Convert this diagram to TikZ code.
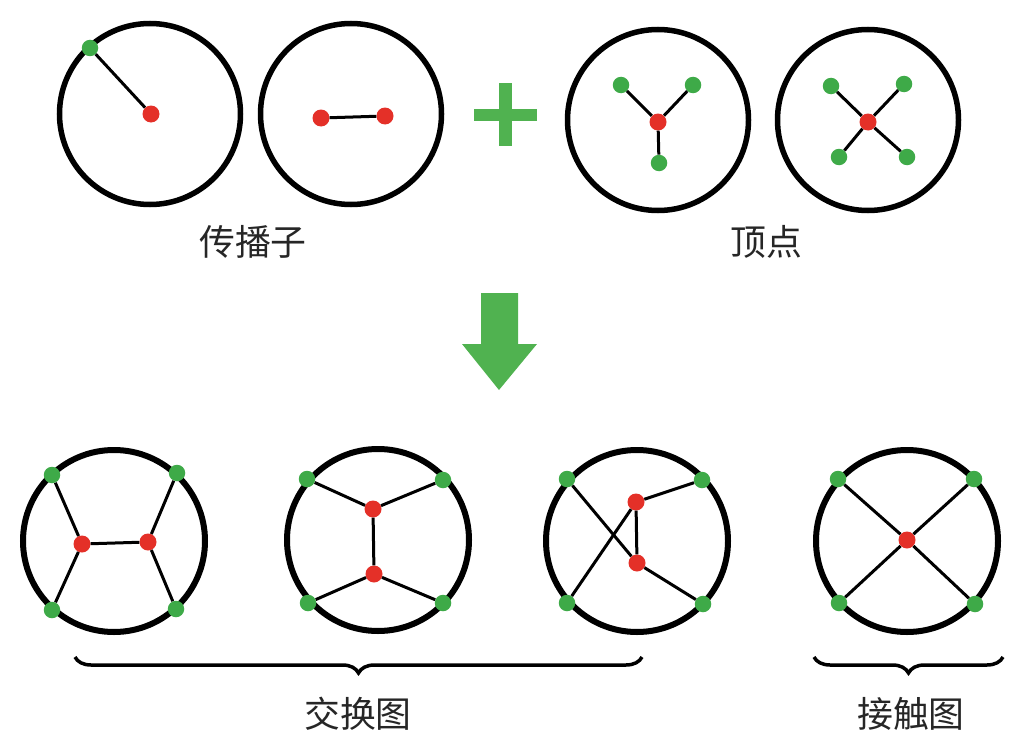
\documentclass[tikz,border=0pt]{standalone}
\usepackage{fontspec}
\newfontfamily\cjk{Noto Sans CJK SC}
\usetikzlibrary{decorations.pathreplacing}
\definecolor{dotgreen}{RGB}{62,170,72}
\definecolor{dotred}{RGB}{228,48,40}
\definecolor{signgreen}{RGB}{80,178,80}
\begin{document}
\begin{tikzpicture}[x=1bp,y=-1bp,
  ring/.style={circle,draw=black,line width=5.5bp,inner sep=0,minimum size=181bp},
  gdot/.style={circle,fill=dotgreen,inner sep=0,minimum size=16.5bp},
  rdot/.style={circle,fill=dotred,inner sep=0,minimum size=17bp},
  link/.style={line width=3bp},
  lbl/.style={font=\cjk\fontsize{36}{40}\selectfont,text=black!85,inner sep=0},
  bracestyle/.style={decorate,decoration={brace,mirror,amplitude=16bp},line width=3.5bp}]
\useasboundingbox (0,0) rectangle (1024,752);

% --- top: propagators
\node[ring] (c1) at (150,114) {};
\node[gdot] (g1) at (90,48) {};
\node[rdot] (r1) at (151,114) {};
\draw[link] (g1) -- (r1);

\node[ring] (c2) at (351,114) {};
\node[rdot] (r2a) at (321,118) {};
\node[rdot] (r2b) at (385,116) {};
\draw[link] (r2a) -- (r2b);

\node[lbl] (t1) at (253,242) {传播子};

% plus sign
\fill[signgreen] (474,109) rectangle (537,121);
\fill[signgreen] (499,83) rectangle (512,146);

% --- top: vertices
\node[ring] (c3) at (658,120) {};
\node[rdot] (r3) at (658,122) {};
\node[gdot] (g3a) at (621,85) {};
\node[gdot] (g3b) at (693,85) {};
\node[gdot] (g3c) at (659,163) {};
\draw[link] (g3a) -- (r3);
\draw[link] (g3b) -- (r3);
\draw[link] (g3c) -- (r3);

\node[ring] (c4) at (868,120) {};
\node[rdot] (r4) at (868,122) {};
\node[gdot] (g4a) at (831,86) {};
\node[gdot] (g4b) at (904,84) {};
\node[gdot] (g4c) at (839,157) {};
\node[gdot] (g4d) at (907,157) {};
\draw[link] (g4a) -- (r4);
\draw[link] (g4b) -- (r4);
\draw[link] (g4c) -- (r4);
\draw[link] (g4d) -- (r4);

\node[lbl] (t2) at (766,242) {顶点};

% down arrow
\fill[signgreen] (481,293) -- (518,293) -- (518,344) -- (537,344) -- (499,390) -- (462,344) -- (481,344) -- cycle;

% --- bottom diagrams
\begin{scope}[ring/.append style={line width=6bp,minimum size=182bp}]
\node[ring] (c5) at (114,541) {};
\node[gdot] (g5a) at (52,475) {};
\node[gdot] (g5b) at (177,473) {};
\node[gdot] (g5c) at (52,610) {};
\node[gdot] (g5d) at (176,609) {};
\node[rdot] (r5a) at (82,544) {};
\node[rdot] (r5b) at (148,542) {};
\draw[link] (g5a) -- (r5a);
\draw[link] (g5c) -- (r5a);
\draw[link] (r5a) -- (r5b);
\draw[link] (r5b) -- (g5b);
\draw[link] (r5b) -- (g5d);

\node[ring] (c6) at (378,540) {};
\node[gdot] (g6a) at (307,479) {};
\node[gdot] (g6b) at (443,480) {};
\node[gdot] (g6c) at (308,603) {};
\node[gdot] (g6d) at (443,603) {};
\node[rdot] (r6a) at (373,509) {};
\node[rdot] (r6b) at (374,574) {};
\draw[link] (g6a) -- (r6a);
\draw[link] (g6b) -- (r6a);
\draw[link] (r6a) -- (r6b);
\draw[link] (r6b) -- (g6c);
\draw[link] (r6b) -- (g6d);

\node[ring] (c7) at (637,541) {};
\node[gdot] (g7a) at (567,479) {};
\node[gdot] (g7b) at (702,480) {};
\node[gdot] (g7c) at (567,603) {};
\node[gdot] (g7d) at (703,604) {};
\node[rdot] (r7a) at (636,502) {};
\node[rdot] (r7b) at (637,563) {};
\draw[link] (g7a) -- (r7b);
\draw[link] (g7c) -- (r7a);
\draw[link] (r7a) -- (g7b);
\draw[link] (r7a) -- (r7b);
\draw[link] (r7b) -- (g7d);

\node[ring] (c8) at (907,541) {};
\node[gdot] (g8a) at (838,479) {};
\node[gdot] (g8b) at (974,479) {};
\node[gdot] (g8c) at (839,603) {};
\node[gdot] (g8d) at (975,604) {};
\node[rdot] (r8) at (907,540) {};
\draw[link] (g8a) -- (r8);
\draw[link] (g8b) -- (r8);
\draw[link] (g8c) -- (r8);
\draw[link] (g8d) -- (r8);
\end{scope}

% braces and labels
\coordinate (b1l) at (75,657);
\coordinate (b1r) at (642,657);
\coordinate (b2l) at (814,657);
\coordinate (b2r) at (1003,657);
\draw[bracestyle] (b1l) -- (b1r);
\draw[bracestyle] (b2l) -- (b2r);
\node[lbl] (t3) at (358,714) {交换图};
\node[lbl] (t4) at (911,714) {接触图};
\end{tikzpicture}
\end{document}
